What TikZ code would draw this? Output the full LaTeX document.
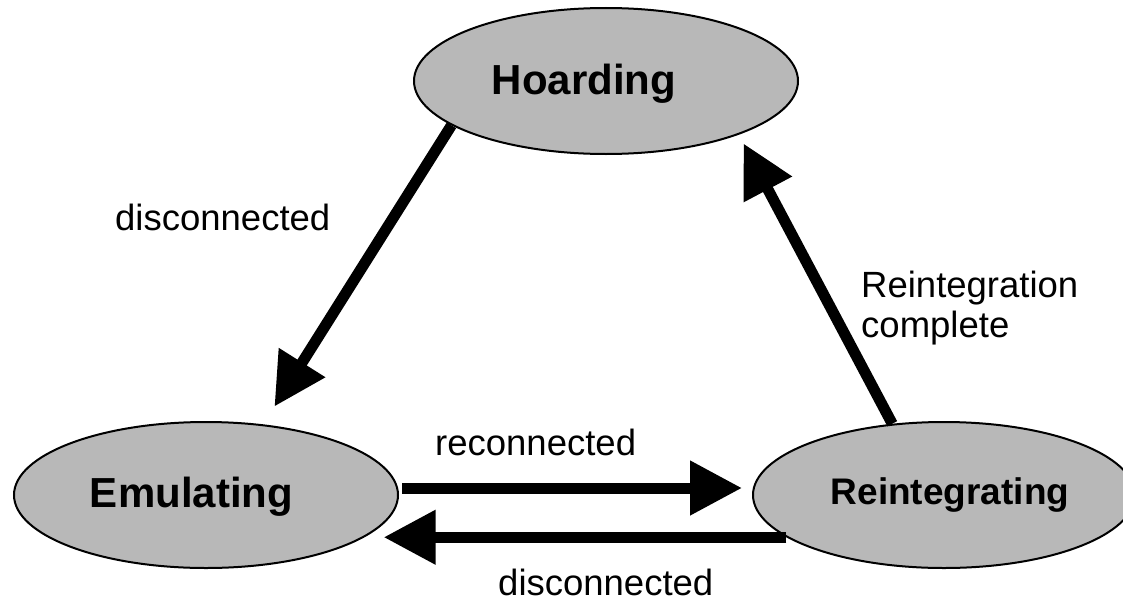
\documentclass[tikz,border=0pt]{standalone}
\usepackage{fontspec}
\setmainfont{Liberation Sans}
\usetikzlibrary{shapes.geometric,arrows.meta}
\definecolor{statefill}{gray}{0.72}
\begin{document}
\begin{tikzpicture}[x=1pt,y=-1pt,
  state/.style={ellipse,draw=black,line width=2pt,fill=statefill,inner sep=0pt,
    minimum width=384pt,minimum height=146pt,text depth=0pt,
    font=\bfseries\fontsize{42}{50}\selectfont},
  arr/.style={line width=11pt,-{Triangle[length=52pt,width=52pt]}},
  lbl/.style={font=\fontsize{36.5}{40}\selectfont,inner sep=0pt,anchor=base west}]
\useasboundingbox (0,0) rectangle (1123,602);
\clip (0,0) rectangle (1123,602);
\node[state,text height=26pt] (hoard) at (606,81) {\hspace*{-44pt}Hoarding};
\node[state,text height=25pt] (emul) at (206,495) {\hspace*{-29pt}Emulating};
\node[state,text height=18.5pt,minimum width=382pt,
  font=\bfseries\fontsize{37}{44}\selectfont] (reint) at (944,495) {\hspace*{12pt}Reintegrating};
\draw[arr,shorten >=21pt] (hoard.196.6) -- (emul.51.7);
\draw[arr,shorten >=10pt] (reint.126.6) -- (hoard.338.2);
\draw[arr,shorten <=3pt,shorten >=10pt] ([yshift=7pt]emul.east) -- ([yshift=7pt]reint.west);
\draw[arr,shorten >=19.5pt] (reint.195) -- (emul.345 |- reint.195);
\node[lbl] (ldisc1) at (115,230) {disconnected};
\node[lbl] (lrecon) at (435,455) {reconnected};
\node[lbl] (ldisc2) at (498,595) {disconnected};
\node[lbl] (lreint1) at (861,297) {Reintegration};
\node[lbl] (lreint2) at (861,337) {complete};
\end{tikzpicture}
\end{document}
